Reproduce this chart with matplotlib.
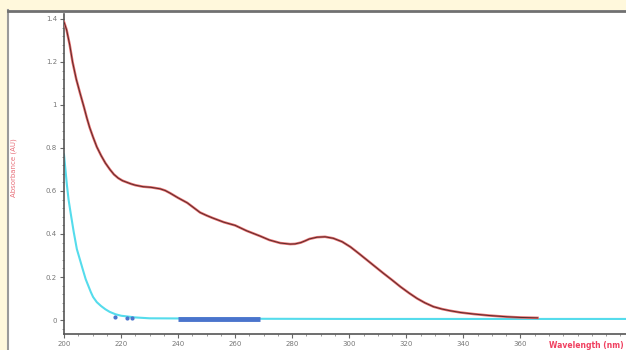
import numpy as np
import matplotlib.pyplot as plt
from matplotlib.patches import Rectangle
from matplotlib.ticker import MultipleLocator

# red spectrum (sample)
wl_red = [200, 200.9, 202, 203, 204.3, 205.6, 207, 208, 209, 210.2, 211.5, 213, 214.5,
          216.1, 217.5, 219, 220.5, 222.1, 223.5, 225, 227.7,
          230.5, 233.7, 235.5, 237.2, 240, 243.2, 245.5, 247.7, 250, 252, 256, 260, 264,
          268.8, 272, 275.8, 279.3, 281, 283, 284.5, 286, 288.7, 291.5, 294.4, 297.5,
          300.4, 303.3, 306.2, 309, 311.9, 315, 317.9, 321, 323.8, 326.5, 329.5, 332.5,
          335.4, 339, 343.5, 349, 355.3, 360, 366]
ab_red = [1.386, 1.35, 1.28, 1.2, 1.12, 1.056, 0.99, 0.94, 0.895, 0.85, 0.805, 0.765, 0.73,
          0.70, 0.677, 0.66, 0.648, 0.64, 0.633, 0.627, 0.62,
          0.617, 0.61, 0.602, 0.59, 0.568, 0.545, 0.522, 0.50, 0.486, 0.475, 0.455, 0.44,
          0.415, 0.39, 0.372, 0.358, 0.353, 0.354, 0.36, 0.368, 0.377, 0.385, 0.387, 0.38,
          0.364, 0.34, 0.31, 0.279, 0.249, 0.218, 0.186, 0.155, 0.125, 0.10, 0.08, 0.062,
          0.051, 0.043, 0.035, 0.028, 0.021, 0.015, 0.012, 0.01]

# cyan spectrum (blank)
wl_cyan = [200, 200.5, 201, 201.6, 202.3, 203.4, 204.5, 205.6, 206.7, 207.6, 208.5, 209.4,
           210.2, 211.5, 213, 214.5, 216, 218, 220, 225, 230, 260, 300, 350, 397]
ab_cyan = [0.77, 0.70, 0.63, 0.56, 0.50, 0.41, 0.33, 0.28, 0.23, 0.19, 0.16, 0.13,
           0.107, 0.083, 0.065, 0.05, 0.038, 0.027, 0.02, 0.012, 0.008, 0.006, 0.005, 0.005, 0.005]

# highlighted blue part
wl_blue = [240, 268.8]
ab_blue = [0.007, 0.007]
wl_dots = [218, 222, 224]
ab_dots = [0.012, 0.01, 0.01]

x_ticks = [200, 220, 240, 260, 280, 300, 320, 340, 360]
y_ticks = [0, 0.2, 0.4, 0.6, 0.8, 1, 1.2, 1.4]
y_labels = ['0', '0.2', '0.4', '0.6', '0.8', '1', '1.2', '1.4']

fig = plt.figure(figsize=(6.26, 3.5), dpi=100)
fig.patch.set_facecolor('#fff8dc')
# white panel with grey frame
panel = Rectangle((8 / 626, 0), 1, 1 - 10 / 350, transform=fig.transFigure,
                  facecolor='white', edgecolor='none', zorder=-10)
fig.patches.append(panel)
fig.add_artist(plt.Line2D([8 / 626, 8 / 626], [0, 1 - 10 / 350], transform=fig.transFigure,
                          color='#9a9a9a', lw=1.5, zorder=-5))
fig.add_artist(plt.Line2D([8 / 626, 1], [1 - 10.5 / 350, 1 - 10.5 / 350], transform=fig.transFigure,
                          color='#707070', lw=2, zorder=-5))

ax = fig.add_axes([64 / 626, 1 - 334 / 350, 1 - 64 / 626, (334 - 14) / 350])
ax.set_facecolor('none')
ax.set_zorder(1)
ax.set_xlim(200, 397)
ax.set_ylim(-0.065, 1.423)

ax.plot(wl_cyan, ab_cyan, color='#55dcec', lw=1.5, zorder=2, solid_joinstyle='round')
ax.plot(wl_blue, ab_blue, color='#4a74cc', lw=3.5, solid_capstyle='butt', zorder=3)
ax.plot(wl_dots, ab_dots, ls='none', marker='o', ms=2, color='#4a74cc', zorder=3)
ax.plot(wl_red, ab_red, color='#e56a6a', lw=1.8, zorder=4, solid_joinstyle='round')
ax.plot(wl_red, ab_red, color='#5a2a2a', lw=0.7, zorder=5, solid_joinstyle='round')

for s in ['top', 'right']:
    ax.spines[s].set_visible(False)
for s in ['left', 'bottom']:
    ax.spines[s].set_color('#555555')
    ax.spines[s].set_linewidth(1.2)

ax.set_xticks(x_ticks)
ax.set_xticklabels([str(v) for v in x_ticks])
ax.set_yticks(y_ticks)
ax.set_yticklabels(y_labels)
ax.xaxis.set_minor_locator(MultipleLocator(5))
ax.yaxis.set_minor_locator(MultipleLocator(0.04))
ax.tick_params(which='major', length=3, width=0.8, color='#666666', labelsize=5,
               labelcolor='#777777', pad=2)
ax.tick_params(which='minor', length=1.5, width=0.6, color='#888888')

fig.text(14 / 626, 1 - 168 / 350, 'Absorbance (AU)', rotation=90, color='#e8707a',
         fontsize=5, ha='center', va='center')
fig.text(624 / 626, 1 - 345 / 350, 'Wavelength (nm)', color='#f04060', fontsize=5.5,
         ha='right', va='center', fontweight='bold')

fig.savefig('out.png', dpi=100, facecolor=fig.get_facecolor())
